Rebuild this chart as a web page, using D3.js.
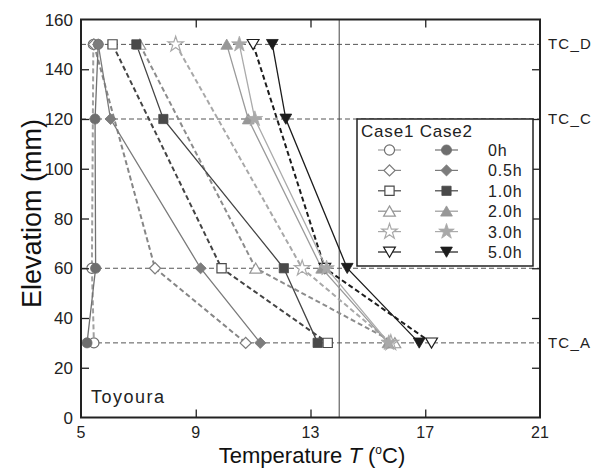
<!DOCTYPE html>
<html>
<head>
<meta charset="utf-8">
<script src="https://d3js.org/d3.v7.min.js"></script>
<style>
  body { margin: 0; background: #fff; }
  svg { display: block; font-family: "Liberation Sans", Arial, sans-serif; }
  .tick-label { font-size: 17px; fill: #222; }
  .grid { stroke: #555; stroke-width: 1; stroke-dasharray: 5,3; fill: none; }
</style>
</head>
<body>
<div id="box"></div>
<script>
// elapsed times (legend rows)
var times = ["0h", "0.5h", "1.0h", "2.0h", "3.0h", "5.0h"];
// thermocouple elevations (mm)
var case1Elev = [150, 60, 30];
var case2Elev = [150, 120, 60, 30];
// temperatures (°C) per time, matching the elevations above
var case1Temp = [
  [5.43, 5.38, 5.45],
  [5.45, 7.58, 10.74],
  [6.10, 9.90, 13.60],
  [7.05, 11.09, 15.94],
  [8.30, 12.71, 15.80],
  [11.00, 13.50, 17.22]
];
var case2Temp = [
  [5.60, 5.49, 5.51, 5.21],
  [5.60, 6.03, 9.17, 11.25],
  [6.93, 7.87, 12.07, 13.25],
  [10.08, 10.83, 13.39, 15.70],
  [10.52, 11.06, 13.56, 15.73],
  [11.67, 12.14, 14.28, 16.79]
];
var xTicks = [5, 9, 13, 17, 21];
var yTicks = [0, 20, 40, 60, 80, 100, 120, 140, 160];
var gridLevels = [150, 120, 60, 30];
var tcNames = ["TC_D", "TC_C", "TC_A"];
var tcLevels = [150, 120, 30];
var refTemp = 14;

var W = 602, H = 470;
var m = {left: 81, right: 62, top: 19.5, bottom: 52.5};

var svg = d3.select('#box').append('svg').attr('width', W).attr('height', H);

var x = d3.scaleLinear().domain([5, 21]).range([m.left, W - m.right]);
var y = d3.scaleLinear().domain([0, 160]).range([H - m.bottom, m.top]);

// styles per time
var markColor = ["#6e6e6e", "#7c7c7c", "#4a4a4a", "#979797", "#a9a9a9", "#1c1c1c"];
var line1Color = ["#a0a0a0", "#868686", "#444444", "#8c8c8c", "#a8a8a8", "#1c1c1c"];
var line2Color = ["#707070", "#7a7a7a", "#444444", "#9a9a9a", "#ababab", "#1c1c1c"];
var shapes = [d3.symbolCircle, d3.symbolSquare, d3.symbolSquare, d3.symbolTriangle, d3.symbolStar, d3.symbolTriangle];
var sizes = [80, 62, 85, 60, 75, 60];
var rot = [0, 45, 0, 0, 0, 180];

// grid lines
svg.append('g').selectAll('line').data(gridLevels).enter().append('line')
  .attr('class', 'grid')
  .attr('x1', x(5)).attr('x2', x(21))
  .attr('y1', d => y(d)).attr('y2', d => y(d));

// reference temperature line
svg.append('line')
  .attr('x1', x(refTemp)).attr('x2', x(refTemp))
  .attr('y1', y(0)).attr('y2', y(160))
  .attr('stroke', '#444').attr('stroke-width', 1);

// profiles
var line = d3.line().x(d => x(d[0])).y(d => y(d[1]));
var gl = svg.append('g');
case1Temp.forEach(function(t, i) {
  gl.append('path')
    .attr('d', line(t.map((v, k) => [v, case1Elev[k]])))
    .attr('fill', 'none').attr('stroke', line1Color[i])
    .attr('stroke-width', 2).attr('stroke-dasharray', '5,3');
});
case2Temp.forEach(function(t, i) {
  gl.append('path')
    .attr('d', line(t.map((v, k) => [v, case2Elev[k]])))
    .attr('fill', 'none').attr('stroke', line2Color[i])
    .attr('stroke-width', 1.3);
});

function marker(g, i, open, cx, cy) {
  var dy = (shapes[i] === d3.symbolTriangle) ? (rot[i] ? -1.5 : 1.5) : 0;
  g.append('path')
    .attr('d', d3.symbol().type(shapes[i]).size(sizes[i])())
    .attr('transform', 'translate(' + cx + ',' + (cy + dy) + ') rotate(' + rot[i] + ')')
    .attr('fill', open ? '#fff' : markColor[i])
    .attr('stroke', markColor[i]).attr('stroke-width', open ? 1.2 : 0.8);
}

var gm = svg.append('g');
case1Temp.forEach(function(t, i) {
  t.forEach((v, k) => marker(gm, i, true, x(v), y(case1Elev[k])));
});
case2Temp.forEach(function(t, i) {
  t.forEach((v, k) => marker(gm, i, false, x(v), y(case2Elev[k])));
});

// frame
svg.append('rect')
  .attr('x', x(5)).attr('y', y(160))
  .attr('width', x(21) - x(5)).attr('height', y(0) - y(160))
  .attr('fill', 'none').attr('stroke', '#222').attr('stroke-width', 2);

// axes with inward ticks
svg.append('g').attr('transform', 'translate(0,' + y(0) + ')')
  .call(d3.axisTop(x).tickValues(xTicks.slice(1, -1)).tickSize(8).tickFormat(''))
  .call(g => g.select('.domain').remove());
svg.append('g').attr('transform', 'translate(0,' + y(160) + ')')
  .call(d3.axisBottom(x).tickValues(xTicks.slice(1, -1)).tickSize(8).tickFormat(''))
  .call(g => g.select('.domain').remove());
svg.append('g').attr('transform', 'translate(' + x(5) + ',0)')
  .call(d3.axisRight(y).tickValues(yTicks.slice(1, -1)).tickSize(8).tickFormat(''))
  .call(g => g.select('.domain').remove());
svg.append('g').attr('transform', 'translate(' + x(21) + ',0)')
  .call(d3.axisLeft(y).tickValues(yTicks.slice(1, -1)).tickSize(8).tickFormat(''))
  .call(g => g.select('.domain').remove());
svg.selectAll('.tick line').attr('stroke', '#222').attr('stroke-width', 1.3);

// tick labels
svg.append('g').selectAll('text').data(xTicks).enter().append('text')
  .attr('class', 'tick-label').attr('text-anchor', 'middle').style('font-size', '16px')
  .attr('x', d => x(d)).attr('y', y(0) + 20).text(d => d);
svg.append('g').selectAll('text').data(yTicks).enter().append('text')
  .attr('class', 'tick-label').attr('text-anchor', 'end')
  .attr('x', x(5) - 8).attr('y', d => y(d) + 6).text(d => d);

// TC labels
svg.append('g').selectAll('text').data(tcLevels).enter().append('text')
  .attr('x', x(21) + 8).attr('y', d => y(d) + 5)
  .attr('font-size', 15).attr('fill', '#222').attr('letter-spacing', 1.2)
  .text((d, i) => tcNames[i]);

// site label
svg.append('text').attr('x', 91).attr('y', 403)
  .attr('font-size', 18).attr('fill', '#222').attr('letter-spacing', 1.5)
  .text('Toyoura');

// axis titles
var xt = svg.append('text').attr('x', 312).attr('y', 463)
  .attr('text-anchor', 'middle').attr('font-size', 22).attr('fill', '#111');
xt.append('tspan').text('Temperature ');
xt.append('tspan').attr('font-style', 'italic').text('T');
xt.append('tspan').text(' (');
xt.append('tspan').attr('font-size', 12).attr('dy', -9).text('o');
xt.append('tspan').attr('dy', 9).text('C)');

svg.append('text')
  .attr('transform', 'translate(41,' + y(82) + ') rotate(-90)')
  .attr('text-anchor', 'middle').attr('font-size', 27).attr('fill', '#111')
  .text('Elevatiom (mm)');

// legend
var lg = svg.append('g');
var lx = 357, ly = 119, lw = 176, lh = 147;
lg.append('rect').attr('x', lx).attr('y', ly).attr('width', lw).attr('height', lh)
  .attr('fill', '#fff').attr('stroke', '#222').attr('stroke-width', 1.5);
lg.append('text').attr('x', lx + 4).attr('y', ly + 18)
  .attr('font-size', 17).attr('fill', '#222').attr('letter-spacing', 0.8).text('Case1 Case2');
times.forEach(function(t, i) {
  var ry = ly + 31 + i * 20.4;
  lg.append('line').attr('x1', 378).attr('x2', 401).attr('y1', ry).attr('y2', ry)
    .attr('stroke', line1Color[i]).attr('stroke-width', 1.2);
  lg.append('line').attr('x1', 435).attr('x2', 458).attr('y1', ry).attr('y2', ry)
    .attr('stroke', line2Color[i]).attr('stroke-width', 1.2);
  marker(lg, i, true, 389.5, ry);
  marker(lg, i, false, 446.5, ry);
  lg.append('text').attr('x', 488).attr('y', ry + 6)
    .attr('font-size', 16).attr('fill', '#222').attr('letter-spacing', 0.8).text(t);
});
</script>
</body>
</html>
